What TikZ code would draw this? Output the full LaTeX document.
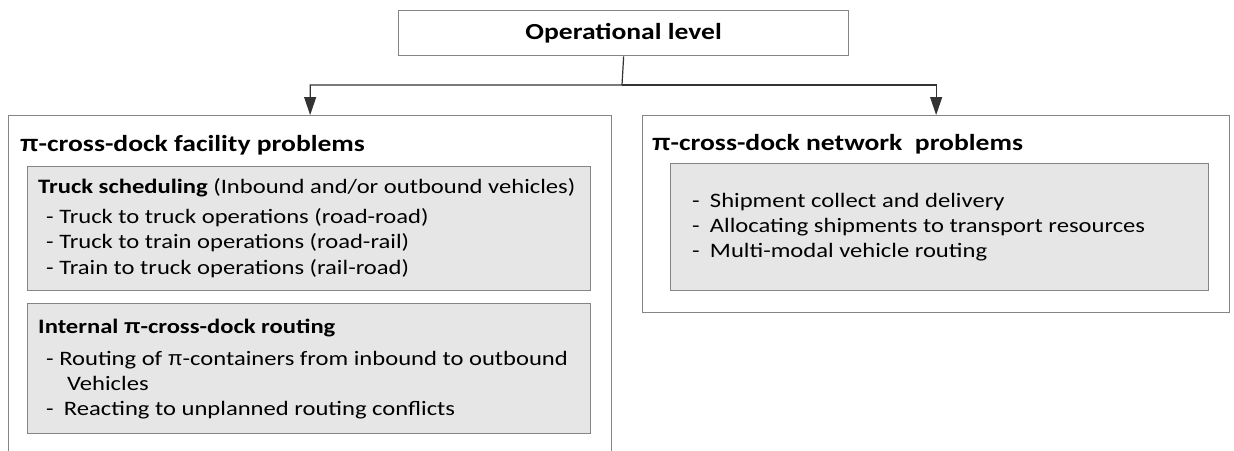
\documentclass[tikz,border=0pt]{standalone}
\usepackage{fontspec}
\setmainfont[FakeStretch=1.2]{Carlito}
\newfontfamily\pifont[FakeStretch=1.05]{Liberation Sans}
\newcommand{\mypi}{{\pifont π}}
\usetikzlibrary{arrows.meta}
\definecolor{bordergray}{HTML}{858585}
\definecolor{fillgray}{HTML}{E6E6E6}
\tikzset{
  outerbox/.style={draw=bordergray, line width=1.3pt, fill=white, inner sep=0pt, anchor=north west},
  innerbox/.style={draw=bordergray, line width=1.3pt, fill=fillgray, inner sep=0pt, anchor=north west},
  conn/.style={draw=black!80, line width=1.2pt, -{Triangle[length=18pt,width=12pt]}},
  ttl/.style={font=\bfseries\fontsize{23}{27}\selectfont, anchor=base west, inner sep=0pt},
  body/.style={font=\fontsize{20.5}{25}\selectfont, anchor=base west, inner sep=0pt},
}
\begin{document}
\begin{tikzpicture}[x=1pt,y=-1pt]
\clip (0,0) rectangle (1234,450);
\fill[white] (0,0) rectangle (1234,450);
% top box
\node[outerbox, minimum width=450pt, minimum height=45pt] (top) at (398,10) {};
\node[font=\bfseries\fontsize{23}{27}\selectfont, inner sep=0pt] (toptext) at (top.center) {Operational level};
% left outer box (bottom cut off)
\node[outerbox, minimum width=603pt, minimum height=360pt] (left) at (8,115) {};
\node[ttl] (lefttitle) at (20,151) {\mypi-cross-dock facility problems};
% inner box 1
\node[innerbox, minimum width=563pt, minimum height=124pt] (box1) at (27,166) {};
\node[body] (b1t) at (38,193) {\textbf{Truck scheduling} (Inbound and/or outbound vehicles)};
\node[body] (b1a) at (46,223) {- Truck to truck operations (road-road)};
\node[body] (b1b) at (46,248) {- Truck to train operations (road-rail)};
\node[body] (b1c) at (46,274) {- Train to truck operations (rail-road)};
% inner box 2
\node[innerbox, minimum width=563pt, minimum height=130pt] (box2) at (27,303) {};
\node[body] (b2t) at (38,333) {\textbf{Internal \mypi-cross-dock routing}};
\node[body] (b2a) at (46,365) {- Routing of \mypi-containers from inbound to outbound};
\node[body] (b2b) at (67,390) {Vehicles};
\node[body] (b2c) at (46,415) {-\hspace{0.5em}Reacting to unplanned routing conflicts};
% right outer box
\node[outerbox, minimum width=587pt, minimum height=197pt] (right) at (642,115) {};
\node[ttl] (righttitle) at (652,150) {\mypi-cross-dock network\ \ problems};
\node[innerbox, minimum width=538pt, minimum height=127pt] (box3) at (670,163) {};
\node[body] (b3a) at (692,207) {-\hspace{0.5em}Shipment collect and delivery};
\node[body] (b3b) at (692,232) {-\hspace{0.5em}Allocating shipments to transport resources};
\node[body] (b3c) at (692,257) {-\hspace{0.5em}Multi-modal vehicle routing};
% connectors
\coordinate (split) at (622,85);
\draw[conn] (top.south) -- (split) -| (left.north);
\draw[conn] (split) -| (right.north);
\end{tikzpicture}
\end{document}
